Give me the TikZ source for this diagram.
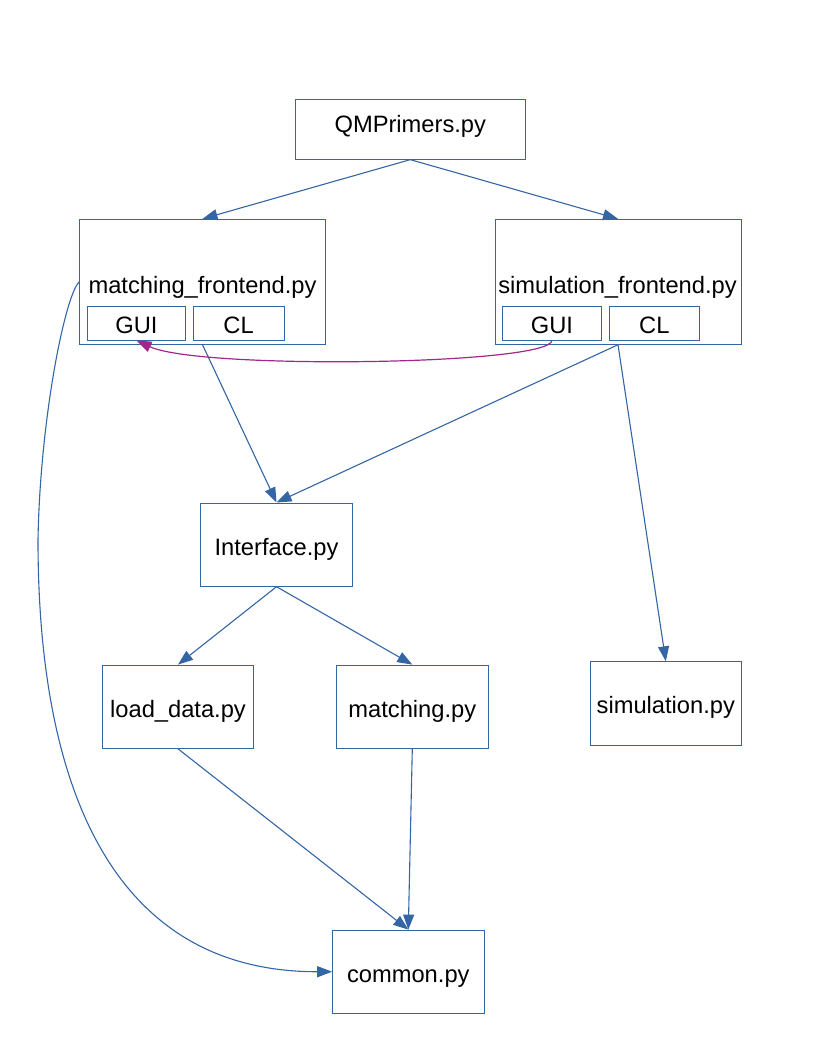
\documentclass[tikz,border=0pt]{standalone}
\usepackage{fontspec}
\setmainfont{Liberation Sans}
\usetikzlibrary{arrows.meta}
\definecolor{lineblue}{HTML}{3465A4}
\definecolor{linkpurple}{HTML}{A0288C}
\begin{document}
\begin{tikzpicture}[x=1pt,y=-1pt,
  font=\fontsize{23.7}{28}\selectfont,
  box/.style={draw=lineblue, line width=0.9pt, rectangle, inner sep=0pt,
    text height=21pt, text depth=0pt},
  lbl/.style={inner sep=0pt, text height=21pt, text depth=0pt},
  dep/.style={draw=lineblue, line width=1.1pt,
    -{Triangle[length=15pt,width=11pt]}},
  guilink/.style={draw=linkpurple, line width=1.2pt,
    -{Triangle[length=15pt,width=11pt]}}]
\useasboundingbox (0,0) rectangle (816,1056);

% modules
\node[box, text height=7pt, minimum width=230pt, minimum height=60pt] (qm) at (410.3,129.2) {QMPrimers.py};

\node[box, minimum width=245.5pt, minimum height=125pt] (mf) at (202.5,281.8) {};
\node[lbl] (mflabel) at (202.5,283) {matching\_frontend.py};
\node[box, minimum width=98.4pt, minimum height=33.3pt] (mgui) at (136.5,323.4) {GUI};
\node[box, minimum width=90.7pt, minimum height=33.3pt] (mcl) at (238.6,323.4) {CL};

\node[box, minimum width=246pt, minimum height=125pt] (sf) at (618,281.8) {};
\node[lbl] (sflabel) at (617.5,283) {simulation\_frontend.py};
\node[box, minimum width=98.3pt, minimum height=33.3pt] (sgui) at (551.9,323.4) {GUI};
\node[box, minimum width=90.7pt, minimum height=33.3pt] (scl) at (654.3,323.4) {CL};

\node[box, minimum width=151.6pt, minimum height=83.3pt] (iface) at (276.5,544.6) {Interface.py};
\node[box, minimum width=151.4pt, minimum height=83.3pt] (ld) at (178,706.7) {load\_data.py};
\node[box, minimum width=152pt, minimum height=83.3pt] (mt) at (412.3,706.7) {matching.py};
\node[box, minimum width=151.7pt, minimum height=83.3pt] (sim) at (665.8,703.4) {simulation.py};
\node[box, minimum width=151.3pt, minimum height=83.3pt] (com) at (408.3,971.7) {common.py};

% dependencies
\draw[dep] (qm.south) -- (mf.north);
\draw[dep] (qm.south) -- (sf.north);
\draw[dep] (mf.south) -- (iface.north);
\draw[dep] (sf.south) -- (iface.north);
\draw[dep] (sf.south) -- (sim.north);
\draw[dep] (iface.south) -- (ld.north);
\draw[dep] (iface.south) -- (mt.north);
\draw[dep] (ld.south) -- (com.north);
\draw[dep] (mt.south) -- (com.north);
\draw[dep] (mf.west) .. controls (65,295) and (40,420) .. (38,540)
  .. controls (38,800) and (120,972) .. (com.west);

% GUI of the simulation frontend reuses the matching GUI
\draw[guilink] (sgui.south) .. controls (550,365) and (200,370) .. (mgui.south);
\end{tikzpicture}
\end{document}
